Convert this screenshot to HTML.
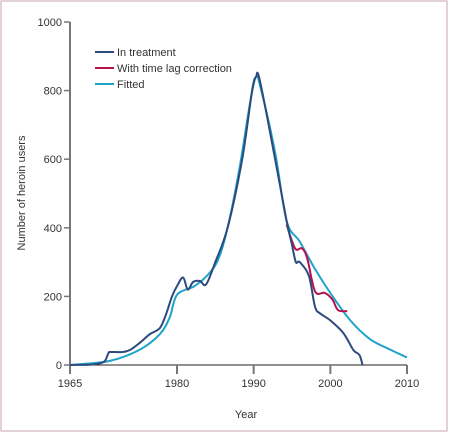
<!DOCTYPE html>
<html><head><meta charset="utf-8"><style>
body{margin:0;background:#fff;}
svg{display:block;font-family:"Liberation Sans",sans-serif;}
</style></head><body>
<svg width="449" height="433">
<rect x="1" y="1" width="446" height="430" fill="#fff" stroke="#c9a3b4" stroke-width="1"/>
<g id="axes"></g><g id="series"></g>
<g font-size="11" fill="#333">
<line x1="95" y1="52" x2="114" y2="52" stroke="#2c4a7c" stroke-width="2"/><text x="117" y="56">In treatment</text>
<line x1="95" y1="68" x2="114" y2="68" stroke="#b5134f" stroke-width="2"/><text x="117" y="72">With time lag correction</text>
<line x1="95" y1="84" x2="114" y2="84" stroke="#1fa3c8" stroke-width="2"/><text x="117" y="88">Fitted</text>
</g>
<text x="246" y="418" font-size="11" fill="#333" text-anchor="middle">Year</text>
<text transform="translate(25,193) rotate(-90)" font-size="11" fill="#333" text-anchor="middle">Number of heroin users</text>
</svg>
<script>
const xTicks=[1965,1980,1990,2000,2010];
const yTicks=[0,200,400,600,800,1000];
const treatYears=[1965,1967.8,1969.2,1969.9,1970.4,1970.7,1972.4,1973.5,1974.8,1976.2,1977.6,1978.5,1979.3,1980,1980.8,1981.4,1982.1,1983,1983.8,1985,1986.6,1988.5,1989.8,1990.3,1990.8,1992.8,1994.3,1995,1995.5,1996,1997.2,1998,1998.7,2000,2001.7,2003,2003.8,2004.2];
const treatValues=[0,1,5,12,35,38,38,45,65,90,108,150,200,230,255,220,242,245,235,300,400,600,800,840,830,600,420,350,300,300,260,170,150,130,93,44,29,0];
const lagYears=[1994.3,1995.4,1996.3,1997,1998,1999.3,2000.3,2001,2002.2];
const lagValues=[410,340,340,310,215,210,190,160,157];
const fitYears=[1965,1970.6,1974.8,1977.6,1979,1980,1982.3,1984.3,1985.6,1986.9,1988.2,1989.5,1990.3,1991,1992.8,1994.3,1996,1998,2000,2002.6,2005.2,2007.8,2010];
const fitValues=[0,12,45,90,140,205,230,270,320,430,580,760,840,800,620,420,360,280,210,130,75,45,22];
const NS='http://www.w3.org/2000/svg';
function xs(y){return y<1980?70+(y-1965)*107/15:177+(y-1980)*7.667;}
function ys(v){return 365-v*0.343;}
function mk(t,a,p){const e=document.createElementNS(NS,t);for(const k in a)e.setAttribute(k,a[k]);p.appendChild(e);return e;}
const ax=document.getElementById('axes');
let l=mk('line',{x1:70,y1:ys(1000),x2:70,y2:365,stroke:'#777','stroke-width':2},ax);


l=mk('line',{x1:70,y1:365,x2:xs(2010),y2:365,stroke:'#222','stroke-width':1},ax);


yTicks.forEach(v=>{mk('line',{x1:64,y1:ys(v),x2:70,y2:ys(v),stroke:'#777','stroke-width':1.5},ax);
const t=mk('text',{x:62,y:ys(v)+4,'font-size':11,fill:'#333','text-anchor':'end'},ax);t.textContent=v;

});
xTicks.forEach(v=>{mk('line',{x1:xs(v),y1:365,x2:xs(v),y2:374,stroke:'#777','stroke-width':2},ax);
const t=mk('text',{x:xs(v),y:387,'font-size':11,fill:'#333','text-anchor':'middle'},ax);t.textContent=v;

});
const se=document.getElementById('series');
function smooth(P){let d='M'+P[0][0].toFixed(1)+','+P[0][1].toFixed(1);
for(let i=0;i<P.length-1;i++){const p0=P[Math.max(i-1,0)],p1=P[i],p2=P[i+1],p3=P[Math.min(i+2,P.length-1)];
const c1=[p1[0]+(p2[0]-p0[0])/6,p1[1]+(p2[1]-p0[1])/6],c2=[p2[0]-(p3[0]-p1[0])/6,p2[1]-(p3[1]-p1[1])/6];
d+=' C'+c1.map(v=>v.toFixed(1))+' '+c2.map(v=>v.toFixed(1))+' '+p2.map(v=>v.toFixed(1));}
return d;}
function line(X,Y,c,n){const P=X.map((x,i)=>[xs(x),ys(Y[i])]);
const p=mk('path',{d:smooth(P),fill:'none',stroke:c,'stroke-width':2,'stroke-linejoin':'round'},se);

}
line(fitYears,fitValues,'#1fa3c8','fitted-line');
line(lagYears,lagValues,'#b5134f','time-lag-line');
line(treatYears,treatValues,'#2c4a7c','in-treatment-line');
</script>
</body></html>
